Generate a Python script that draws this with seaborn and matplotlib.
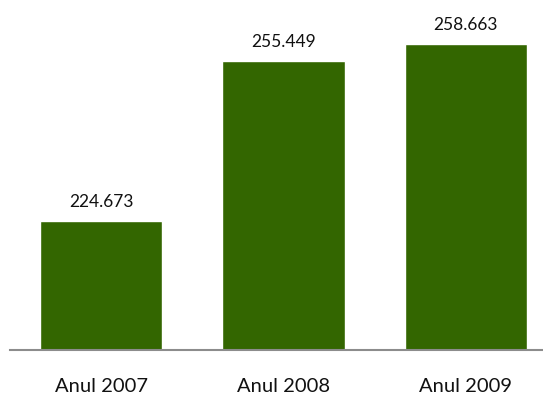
import matplotlib
matplotlib.use("Agg")
import matplotlib.pyplot as plt
import seaborn as sns
import pandas as pd

years = ["Anul 2007", "Anul 2008", "Anul 2009"]
values = [224.673, 255.449, 258.663]
value_labels = ["224.673", "255.449", "258.663"]

sns.set_theme(style="white")
plt.rcParams["font.family"] = ["Lato", "DejaVu Sans"]

df = pd.DataFrame({"an": years, "valoare": values})

fig = plt.figure(figsize=(5.43, 4.01), dpi=100)
# axes spans x from 10 px to 557 px (beyond the right edge)
ax = fig.add_axes([10 / 543, 51 / 401, 547 / 543, 365.1 / 401])

sns.barplot(data=df, x="an", y="valoare", color="#336600", width=0.67,
            saturation=1, ax=ax)

ax.set_ylim(200, 270)
ax.set_xlim(-0.5, 2.5)
ax.set_xlabel("")
ax.set_ylabel("")
ax.set_yticks([])
for s in ["top", "right", "left"]:
    ax.spines[s].set_visible(False)
ax.spines["bottom"].set_color("#8c8c8c")
ax.spines["bottom"].set_linewidth(1.5)
ax.tick_params(axis="x", length=0, pad=20, labelsize=14.5, labelcolor="#111111")

for i, (v, lab) in enumerate(zip(values, value_labels)):
    ax.annotate(lab, (i, v), xytext=(0, 8), textcoords="offset points",
                ha="center", va="bottom", fontsize=12.5, color="#111111")

ax.patch.set_alpha(0)
fig.savefig("out.png", dpi=100)
